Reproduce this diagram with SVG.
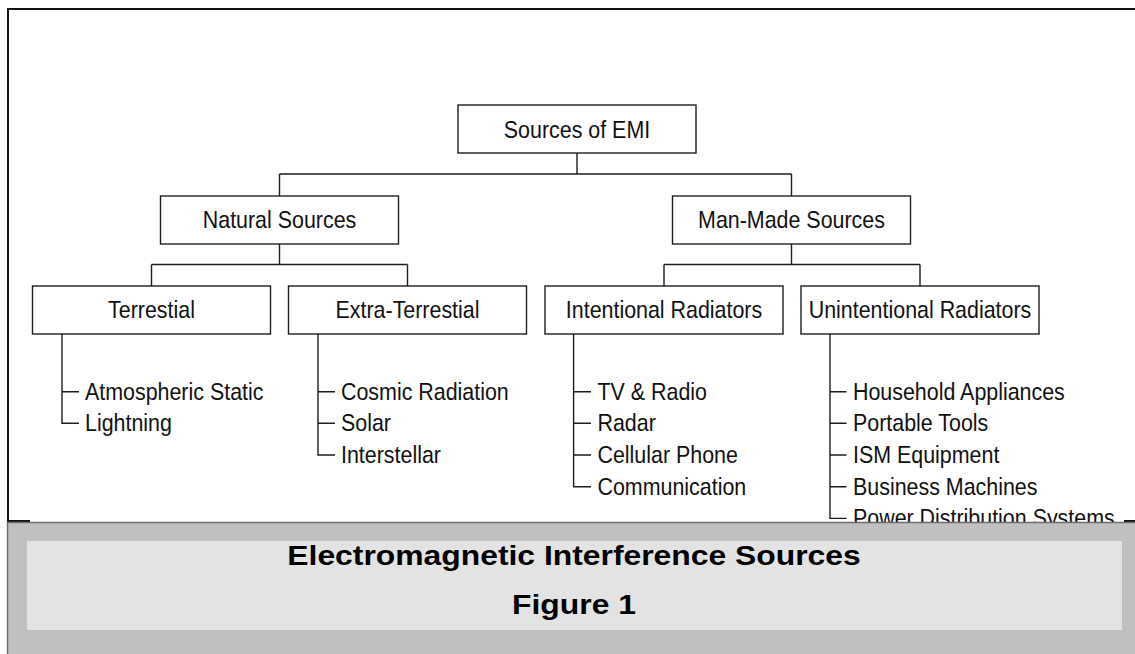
<svg xmlns="http://www.w3.org/2000/svg" width="1135" height="654" viewBox="0 0 1135 654">
  <style>
    .box { fill: #ffffff; stroke: #1e1e1e; stroke-width: 1.4; }
    .wire { fill: none; stroke: #1e1e1e; stroke-width: 1.4; }
    .frame { fill: none; stroke: #111111; stroke-width: 2; }
    .lbl { font-family: "Liberation Sans", Arial, sans-serif; font-size: 23.8px; fill: #111111; }
    .mid { text-anchor: middle; }
    .cap { font-family: "Liberation Sans", Arial, sans-serif; font-size: 27px; font-weight: bold; fill: #000000; text-anchor: middle; }
  </style>

  <rect x="0" y="0" width="1135" height="654" fill="#ffffff"/>

  <!-- outer frame of the chart area -->
  <path class="frame" d="M30,521 H8 V9 H1135"/>
  <path class="frame" d="M1124,521 H1135" stroke-width="1.5"/>

  <!-- tree connectors -->
  <g id="connectors" class="wire">
    <path d="M577,153 V174 M279.5,174 H791.5 M279.5,174 V196 M791.5,174 V196"/>
    <path d="M279.5,244 V264.5 M151.5,264.5 H407.5 M151.5,264.5 V286 M407.5,264.5 V286"/>
    <path d="M791.5,244 V264.5 M664,264.5 H920 M664,264.5 V286 M920,264.5 V286"/>
    <!-- leaf lists -->
    <path d="M62,334 V423.3 H79 M62,391.7 H79"/>
    <path d="M318,334 V455 H335 M318,391.7 H335 M318,423.3 H335"/>
    <path d="M573.6,334 V486.7 H591 M573.6,391.7 H591 M573.6,423.3 H591 M573.6,455 H591"/>
    <path d="M830,334 V518.4 H846.5 M830,391.7 H846.5 M830,423.3 H846.5 M830,455 H846.5 M830,486.7 H846.5"/>
  </g>

  <g id="sources-of-emi">
    <rect class="box" x="458" y="105" width="238" height="48"/>
    <text class="lbl mid" transform="translate(577,137.5) scale(0.9,1)">Sources of EMI</text>
  </g>

  <g id="natural-sources">
    <rect class="box" x="160.5" y="196" width="238" height="48"/>
    <text class="lbl mid" transform="translate(279.5,228) scale(0.9,1)">Natural Sources</text>
  </g>

  <g id="man-made-sources">
    <rect class="box" x="672.5" y="196" width="238" height="48"/>
    <text class="lbl mid" transform="translate(791.5,228) scale(0.9,1)">Man-Made Sources</text>
  </g>

  <g id="terrestial">
    <rect class="box" x="32.5" y="286" width="238" height="48"/>
    <text class="lbl mid" transform="translate(151.5,318) scale(0.9,1)">Terrestial</text>
    <text class="lbl" transform="translate(85,399.7) scale(0.9,1)">Atmospheric Static</text>
    <text class="lbl" transform="translate(85,431.3) scale(0.9,1)">Lightning</text>
  </g>

  <g id="extra-terrestial">
    <rect class="box" x="288.5" y="286" width="238" height="48"/>
    <text class="lbl mid" transform="translate(407.5,318) scale(0.9,1)">Extra-Terrestial</text>
    <text class="lbl" transform="translate(341,399.7) scale(0.9,1)">Cosmic Radiation</text>
    <text class="lbl" transform="translate(341,431.3) scale(0.9,1)">Solar</text>
    <text class="lbl" transform="translate(341,463) scale(0.9,1)">Interstellar</text>
  </g>

  <g id="intentional-radiators">
    <rect class="box" x="545" y="286" width="238" height="48"/>
    <text class="lbl mid" transform="translate(664,318) scale(0.9,1)">Intentional Radiators</text>
    <text class="lbl" transform="translate(597.5,399.7) scale(0.9,1)">TV &amp; Radio</text>
    <text class="lbl" transform="translate(597.5,431.3) scale(0.9,1)">Radar</text>
    <text class="lbl" transform="translate(597.5,463) scale(0.9,1)">Cellular Phone</text>
    <text class="lbl" transform="translate(597.5,494.7) scale(0.9,1)">Communication</text>
  </g>

  <g id="unintentional-radiators">
    <rect class="box" x="801" y="286" width="238" height="48"/>
    <text class="lbl mid" transform="translate(920,318) scale(0.9,1)">Unintentional Radiators</text>
    <text class="lbl" transform="translate(853,399.7) scale(0.9,1)">Household Appliances</text>
    <text class="lbl" transform="translate(853,431.3) scale(0.9,1)">Portable Tools</text>
    <text class="lbl" transform="translate(853,463) scale(0.9,1)">ISM Equipment</text>
    <text class="lbl" transform="translate(853,494.7) scale(0.9,1)">Business Machines</text>
    <text class="lbl" transform="translate(853,526.4) scale(0.9,1)">Power Distribution Systems</text>
  </g>

  <!-- caption panel -->
  <g id="caption">
    <rect x="7.5" y="522.5" width="1128" height="132" fill="#c0c0c0"/>
    <path d="M7.5,654 V522.5 H1135" fill="none" stroke="#6e6e6e" stroke-width="1.5"/>
    <rect x="27" y="541" width="1095" height="89" fill="#e3e3e3"/>
    <text class="cap" transform="translate(574,565) scale(1.18,1)">Electromagnetic Interference Sources</text>
    <text class="cap" transform="translate(574,614) scale(1.18,1)">Figure 1</text>
  </g>
</svg>
